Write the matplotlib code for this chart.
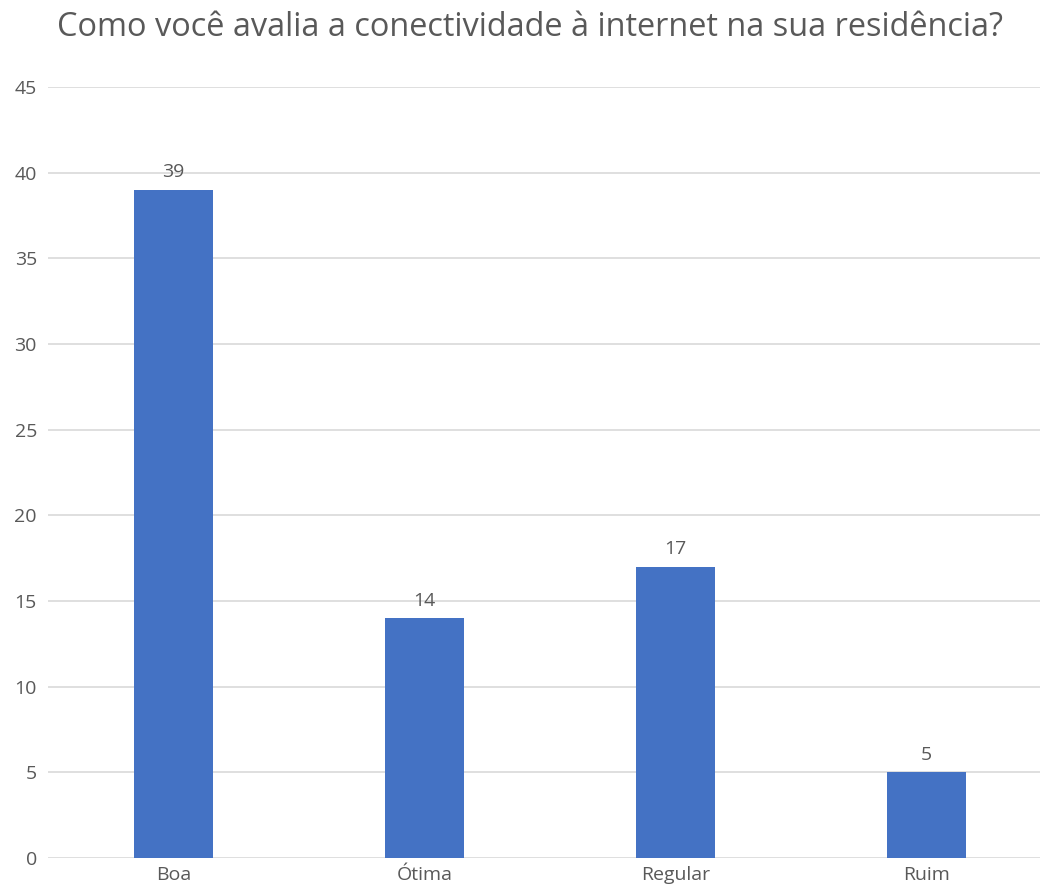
import matplotlib.pyplot as plt

# Dados
categorias = ['Boa', 'Ótima', 'Regular', 'Ruim']
valores = [39, 14, 17, 5]
yticks = [0, 5, 10, 15, 20, 25, 30, 35, 40, 45]

cor_texto = '#595959'
cor_barra = '#4472C4'
cor_grade = '#D9D9D9'

plt.rcParams['font.family'] = ['Open Sans', 'DejaVu Sans']

fig = plt.figure(figsize=(10.4, 8.89), dpi=100)
# eixo vai além da borda direita, como no original
ax = fig.add_axes([48 / 1040, 31 / 889, 1004 / 1040, 771 / 889])

x = range(len(categorias))
barras = ax.bar(x, valores, width=0.315, color=cor_barra, zorder=3)
ax.bar_label(barras, labels=[str(v) for v in valores], padding=6,
             fontsize=14, color=cor_texto)

ax.set_xlim(-0.5, 3.5)
ax.set_ylim(0, 45)
ax.set_yticks(yticks)
ax.set_xticks(list(x))
ax.set_xticklabels(categorias)
ax.tick_params(axis='both', length=0, labelsize=14, colors=cor_texto)
ax.tick_params(axis='y', pad=8)
ax.tick_params(axis='x', pad=6)
ax.grid(axis='y', color=cor_grade, linewidth=1.2, zorder=0)
for s in ax.spines.values():
    s.set_visible(False)

fig.text(0.51, 0.969, 'Como você avalia a conectividade à internet na sua residência?',
         ha='center', va='center', fontsize=23.4, color=cor_texto)

fig.savefig('out.png', dpi=100)
